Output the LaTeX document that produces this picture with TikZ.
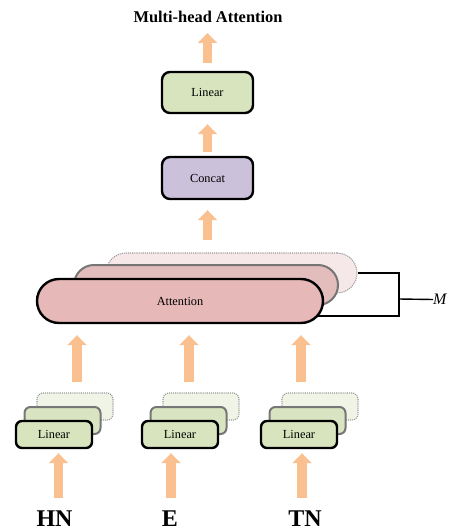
\documentclass[tikz,border=0pt]{standalone}
\usepackage{fontspec}
\setmainfont{Liberation Serif}
\usetikzlibrary{arrows.meta}
\definecolor{gfill}{HTML}{D7E4BD}
\definecolor{gfill2}{HTML}{D9E5C2}
\definecolor{gfill3}{HTML}{EFF4E6}
\definecolor{pfill}{HTML}{E6B9B8}
\definecolor{pfill2}{HTML}{E3BDBC}
\definecolor{pfill3}{HTML}{F6E8E8}
\definecolor{cfill}{HTML}{CCC1DA}
\definecolor{orng}{HTML}{FAC090}
\definecolor{gray2}{HTML}{767676}
\definecolor{gray3}{HTML}{9A9A9A}
\tikzset{
  box/.style={draw=black, line width=2.4pt, inner sep=0pt, font=\fontsize{12.3}{14}\selectfont},
  box2/.style={draw=gray2, line width=2pt, inner sep=0pt},
  box3/.style={draw=gray3, line width=1.1pt, densely dotted, inner sep=0pt},
  bigbox/.style={minimum width=91pt, minimum height=41pt, rounded corners=8pt},
  smallbox/.style={minimum width=76pt, minimum height=27pt, rounded corners=6pt},
  blockarrow/.style={draw=orng, line width=9.5pt, -{Triangle[width=19pt,length=10pt]}},
  inlabel/.style={font=\fontsize{24}{26}\selectfont\bfseries, inner sep=0pt},
  bracket/.style={draw=black, line width=1.4pt},
}
\begin{document}
\begin{tikzpicture}[x=1pt,y=-1pt]
\useasboundingbox (0,0) rectangle (448,532);

% title
\node[font=\fontsize{16.4}{18}\selectfont\bfseries, inner sep=0pt] (title) at (208,17) {Multi-head Attention};

% top part
\node[box, bigbox, fill=gfill] (lintop) at (207.5,92.5) {Linear};
\node[box, bigbox, fill=cfill, minimum height=42pt] (concat) at (207.5,178) {Concat};

% bracket (behind attention boxes)
\coordinate (bra) at (399,273);
\coordinate (brb) at (399,316);
\coordinate (brm) at (399,299);
\node[font=\fontsize{16}{18}\selectfont\itshape, inner sep=0pt, anchor=west] (M) at (433,299.5) {M};

% attention stack
\node[box3, fill=pfill3, minimum width=251pt, minimum height=40pt, rounded corners=20pt] (att3) at (231.5,273) {};
\draw[bracket] (att3.east) -- (bra) -- (brb) -- (300,316);
\draw[bracket] (brm) -- (M.west);
\node[box2, fill=pfill2, minimum width=264pt, minimum height=40pt, rounded corners=20pt] (att2) at (206,285) {};
\node[box, fill=pfill, minimum width=286pt, minimum height=44pt, rounded corners=22pt] (att) at (180,301) {Attention};

% linear groups
\foreach \n/\x in {1/54, 2/180, 3/299} {
  \node[box3, smallbox, fill=gfill3] (l\n c) at (\x+21,406.5) {};
  \node[box2, smallbox, fill=gfill2] (l\n b) at (\x+8.5,420.5) {};
  \node[box, smallbox, fill=gfill] (l\n a) at (\x,434.5) {Linear};
}

% input labels
\node[inlabel] (hn) at (54.5,519) {HN};
\node[inlabel] (e) at (170,519) {E};
\node[inlabel] (tn) at (305,519) {TN};

% arrow coordinates
\coordinate (t1) at (207.5,33);
\coordinate (q1) at (77,382);
\coordinate (q2) at (189,382);
\coordinate (q3) at (301,382);
\coordinate (p1) at (58.5,498);
\coordinate (p2) at (171,498);
\coordinate (p3) at (302,498);

% arrows
\draw[blockarrow, shorten <=8pt] (lintop.north) -- (t1);
\draw[blockarrow, shorten <=4pt, shorten >=10pt] (concat.north) -- (lintop.south);
\draw[blockarrow, shorten >=10pt] (concat.south |- 0,240) -- (concat.south);
\foreach \i in {1,2,3} {
  \draw[blockarrow, shorten >=11pt] (q\i) -- (q\i |- att.south);
  \draw[blockarrow, shorten >=4pt] (p\i) -- (p\i |- l\i a.south);
}
\end{tikzpicture}
\end{document}
